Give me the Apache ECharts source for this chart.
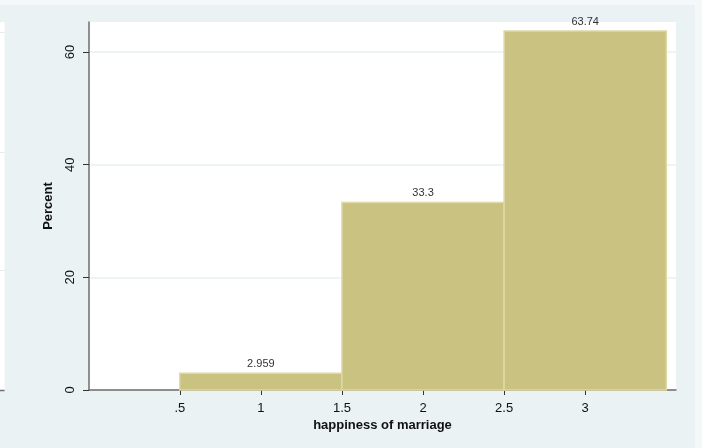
<!DOCTYPE html>
<html>
<head>
<meta charset="utf-8">
<script src="https://cdn.jsdelivr.net/npm/echarts@6/dist/echarts.min.js"></script>
<style>
  html, body { margin: 0; padding: 0; background: #eaf2f3; }
  #chart { width: 702px; height: 448px; }
</style>
</head>
<body>
<div id="chart"></div>
<script>
// Histogram of happiness of marriage (percent per bin)
const binStarts = [0.5, 1.5, 2.5];
const binEnds = [1.5, 2.5, 3.5];
const percents = [2.959, 33.3, 63.74];
const barLabels = ['2.959', '33.3', '63.74'];
const xTickValues = [0.5, 1, 1.5, 2, 2.5, 3];
const xTickLabels = ['.5', '1', '1.5', '2', '2.5', '3'];
const yTickValues = [0, 20, 40, 60];

const FONT = '"Liberation Sans", Arial, Helvetica, sans-serif';
const BAR_FILL = '#c9c280';
const BAR_EDGE = '#ddd8a6';

const chart = echarts.init(document.getElementById('chart'), null, { renderer: 'canvas' });

const histData = binStarts.map((s, i) => [s, binEnds[i], percents[i], barLabels[i]]);

chart.setOption({
  backgroundColor: '#eaf2f3',
  animation: false,
  textStyle: { fontFamily: FONT },
  graphic: [
    // pale outer margins
    { type: 'rect', shape: { x: 0, y: 0, width: 702, height: 5 }, style: { fill: '#f4f8f8' }, silent: true },
    { type: 'rect', shape: { x: 695, y: 0, width: 7, height: 448 }, style: { fill: '#f4f8f8' }, silent: true },
    // neighbouring panel edge on the left
    { type: 'rect', shape: { x: 0, y: 22, width: 4.5, height: 368 }, style: { fill: '#ffffff' }, silent: true },
    { type: 'line', shape: { x1: 0, y1: 32.5, x2: 4.5, y2: 32.5 }, style: { stroke: '#e3ecee', lineWidth: 1 }, silent: true },
    { type: 'line', shape: { x1: 0, y1: 152.5, x2: 4.5, y2: 152.5 }, style: { stroke: '#e3ecee', lineWidth: 1 }, silent: true },
    { type: 'line', shape: { x1: 0, y1: 270.5, x2: 4.5, y2: 270.5 }, style: { stroke: '#e3ecee', lineWidth: 1 }, silent: true },
    { type: 'line', shape: { x1: 0, y1: 390.5, x2: 4.5, y2: 390.5 }, style: { stroke: '#6e6e6e', lineWidth: 1.5 }, silent: true }
  ],
  grid: {
    left: 89, right: 26, top: 22, bottom: 58,
    outerBoundsMode: 'none',
    containLabel: false,
    show: true, backgroundColor: '#ffffff', borderWidth: 0
  },
  xAxis: {
    type: 'value',
    min: -0.06,
    max: 3.56,
    name: 'happiness of marriage',
    nameLocation: 'middle',
    nameMoveOverlap: false,
    nameGap: 29,
    nameTextStyle: { fontFamily: FONT, fontSize: 13, fontWeight: 'bold', color: '#111' },
    axisLine: { show: true, onZero: false, lineStyle: { color: '#6e6e6e', width: 1.5 } },
    axisTick: { show: true, length: 5, customValues: xTickValues, lineStyle: { color: '#333', width: 1 } },
    axisLabel: {
      customValues: xTickValues,
      formatter: v => xTickLabels[xTickValues.indexOf(v)],
      fontFamily: FONT, fontSize: 13, color: '#111', margin: 12
    },
    splitLine: { show: false }
  },
  yAxis: {
    type: 'value',
    min: 0,
    max: 65.33,
    name: 'Percent',
    nameLocation: 'middle',
    nameRotate: 90,
    nameMoveOverlap: false,
    nameGap: 34,
    nameTextStyle: { fontFamily: FONT, fontSize: 13, fontWeight: 'bold', color: '#111' },
    axisLine: { show: true, onZero: false, lineStyle: { color: '#6e6e6e', width: 1.5 } },
    axisTick: { show: true, length: 6, customValues: yTickValues, lineStyle: { color: '#333', width: 1 } },
    axisLabel: {
      customValues: yTickValues,
      rotate: 90,
      fontFamily: FONT, fontSize: 13, color: '#111', margin: 12
    },
    splitLine: { show: true, lineStyle: { color: '#e8f0f2', width: 1.5 } }
  },
  series: [{
    type: 'custom',
    data: histData,
    encode: { x: [0, 1], y: 2 },
    renderItem: function (params, api) {
      const p0 = api.coord([api.value(0), api.value(2)]);
      const p1 = api.coord([api.value(1), 0]);
      return {
        type: 'rect',
        shape: { x: p0[0], y: p0[1], width: p1[0] - p0[0], height: p1[1] - p0[1] },
        style: { fill: BAR_FILL, stroke: BAR_EDGE, lineWidth: 1.5 },
        textContent: {
          style: {
            text: barLabels[params.dataIndex],
            fontFamily: FONT, fontSize: 11, fill: '#333'
          }
        },
        textConfig: { position: 'top', distance: 3 }
      };
    }
  }]
});
</script>
</body>
</html>
